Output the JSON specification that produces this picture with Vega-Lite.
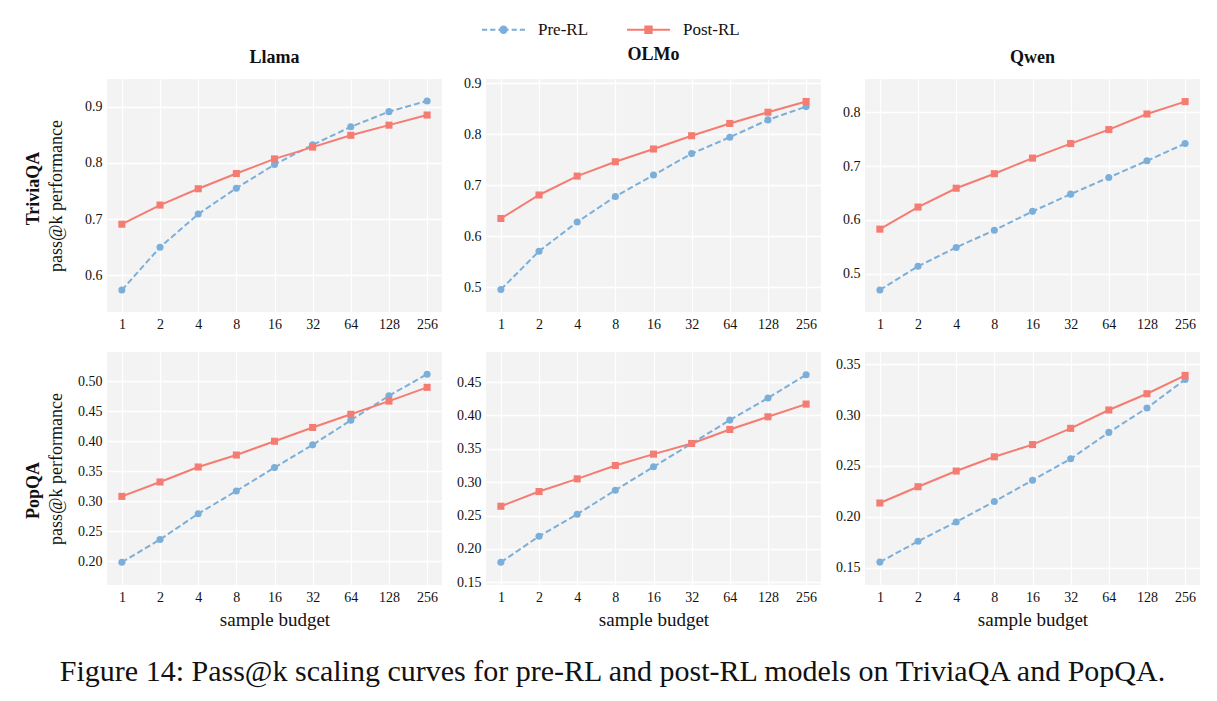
{
  "$schema": "https://vega.github.io/schema/vega-lite/v6.json",
  "padding": {"left": 25, "top": 7, "right": 10, "bottom": 10},
  "background": "white",
  "data": {"values": [
    {"model": "Llama", "task": "TriviaQA", "k": 1, "Pre-RL": 0.574, "Post-RL": 0.691},
    {"model": "Llama", "task": "TriviaQA", "k": 2, "Pre-RL": 0.650, "Post-RL": 0.725},
    {"model": "Llama", "task": "TriviaQA", "k": 4, "Pre-RL": 0.709, "Post-RL": 0.754},
    {"model": "Llama", "task": "TriviaQA", "k": 8, "Pre-RL": 0.755, "Post-RL": 0.781},
    {"model": "Llama", "task": "TriviaQA", "k": 16, "Pre-RL": 0.797, "Post-RL": 0.807},
    {"model": "Llama", "task": "TriviaQA", "k": 32, "Pre-RL": 0.832, "Post-RL": 0.828},
    {"model": "Llama", "task": "TriviaQA", "k": 64, "Pre-RL": 0.864, "Post-RL": 0.849},
    {"model": "Llama", "task": "TriviaQA", "k": 128, "Pre-RL": 0.891, "Post-RL": 0.867},
    {"model": "Llama", "task": "TriviaQA", "k": 256, "Pre-RL": 0.910, "Post-RL": 0.885},
    {"model": "OLMo", "task": "TriviaQA", "k": 1, "Pre-RL": 0.496, "Post-RL": 0.635},
    {"model": "OLMo", "task": "TriviaQA", "k": 2, "Pre-RL": 0.571, "Post-RL": 0.681},
    {"model": "OLMo", "task": "TriviaQA", "k": 4, "Pre-RL": 0.628, "Post-RL": 0.718},
    {"model": "OLMo", "task": "TriviaQA", "k": 8, "Pre-RL": 0.678, "Post-RL": 0.746},
    {"model": "OLMo", "task": "TriviaQA", "k": 16, "Pre-RL": 0.720, "Post-RL": 0.771},
    {"model": "OLMo", "task": "TriviaQA", "k": 32, "Pre-RL": 0.762, "Post-RL": 0.797},
    {"model": "OLMo", "task": "TriviaQA", "k": 64, "Pre-RL": 0.794, "Post-RL": 0.821},
    {"model": "OLMo", "task": "TriviaQA", "k": 128, "Pre-RL": 0.828, "Post-RL": 0.843},
    {"model": "OLMo", "task": "TriviaQA", "k": 256, "Pre-RL": 0.854, "Post-RL": 0.864},
    {"model": "Qwen", "task": "TriviaQA", "k": 1, "Pre-RL": 0.470, "Post-RL": 0.583},
    {"model": "Qwen", "task": "TriviaQA", "k": 2, "Pre-RL": 0.514, "Post-RL": 0.624},
    {"model": "Qwen", "task": "TriviaQA", "k": 4, "Pre-RL": 0.549, "Post-RL": 0.659},
    {"model": "Qwen", "task": "TriviaQA", "k": 8, "Pre-RL": 0.581, "Post-RL": 0.686},
    {"model": "Qwen", "task": "TriviaQA", "k": 16, "Pre-RL": 0.616, "Post-RL": 0.715},
    {"model": "Qwen", "task": "TriviaQA", "k": 32, "Pre-RL": 0.648, "Post-RL": 0.742},
    {"model": "Qwen", "task": "TriviaQA", "k": 64, "Pre-RL": 0.679, "Post-RL": 0.768},
    {"model": "Qwen", "task": "TriviaQA", "k": 128, "Pre-RL": 0.710, "Post-RL": 0.797},
    {"model": "Qwen", "task": "TriviaQA", "k": 256, "Pre-RL": 0.742, "Post-RL": 0.820},
    {"model": "Llama", "task": "PopQA", "k": 1, "Pre-RL": 0.198, "Post-RL": 0.308},
    {"model": "Llama", "task": "PopQA", "k": 2, "Pre-RL": 0.236, "Post-RL": 0.332},
    {"model": "Llama", "task": "PopQA", "k": 4, "Pre-RL": 0.279, "Post-RL": 0.357},
    {"model": "Llama", "task": "PopQA", "k": 8, "Pre-RL": 0.317, "Post-RL": 0.377},
    {"model": "Llama", "task": "PopQA", "k": 16, "Pre-RL": 0.356, "Post-RL": 0.400},
    {"model": "Llama", "task": "PopQA", "k": 32, "Pre-RL": 0.394, "Post-RL": 0.423},
    {"model": "Llama", "task": "PopQA", "k": 64, "Pre-RL": 0.435, "Post-RL": 0.445},
    {"model": "Llama", "task": "PopQA", "k": 128, "Pre-RL": 0.476, "Post-RL": 0.467},
    {"model": "Llama", "task": "PopQA", "k": 256, "Pre-RL": 0.512, "Post-RL": 0.490},
    {"model": "OLMo", "task": "PopQA", "k": 1, "Pre-RL": 0.180, "Post-RL": 0.264},
    {"model": "OLMo", "task": "PopQA", "k": 2, "Pre-RL": 0.219, "Post-RL": 0.286},
    {"model": "OLMo", "task": "PopQA", "k": 4, "Pre-RL": 0.252, "Post-RL": 0.305},
    {"model": "OLMo", "task": "PopQA", "k": 8, "Pre-RL": 0.288, "Post-RL": 0.325},
    {"model": "OLMo", "task": "PopQA", "k": 16, "Pre-RL": 0.323, "Post-RL": 0.342},
    {"model": "OLMo", "task": "PopQA", "k": 32, "Pre-RL": 0.358, "Post-RL": 0.358},
    {"model": "OLMo", "task": "PopQA", "k": 64, "Pre-RL": 0.393, "Post-RL": 0.379},
    {"model": "OLMo", "task": "PopQA", "k": 128, "Pre-RL": 0.426, "Post-RL": 0.398},
    {"model": "OLMo", "task": "PopQA", "k": 256, "Pre-RL": 0.461, "Post-RL": 0.417},
    {"model": "Qwen", "task": "PopQA", "k": 1, "Pre-RL": 0.1555, "Post-RL": 0.2136},
    {"model": "Qwen", "task": "PopQA", "k": 2, "Pre-RL": 0.176, "Post-RL": 0.2296},
    {"model": "Qwen", "task": "PopQA", "k": 4, "Pre-RL": 0.195, "Post-RL": 0.245},
    {"model": "Qwen", "task": "PopQA", "k": 8, "Pre-RL": 0.215, "Post-RL": 0.259},
    {"model": "Qwen", "task": "PopQA", "k": 16, "Pre-RL": 0.236, "Post-RL": 0.271},
    {"model": "Qwen", "task": "PopQA", "k": 32, "Pre-RL": 0.257, "Post-RL": 0.287},
    {"model": "Qwen", "task": "PopQA", "k": 64, "Pre-RL": 0.283, "Post-RL": 0.305},
    {"model": "Qwen", "task": "PopQA", "k": 128, "Pre-RL": 0.307, "Post-RL": 0.321},
    {"model": "Qwen", "task": "PopQA", "k": 256, "Pre-RL": 0.335, "Post-RL": 0.339}
  ]},
  "transform": [{"fold": ["Pre-RL", "Post-RL"], "as": ["series", "value"]}],
  "title": {"text": "Figure 14: Pass@k scaling curves for pre-RL and post-RL models on TriviaQA and PopQA.", "orient": "bottom", "anchor": "middle", "fontSize": 30, "fontWeight": "normal", "offset": 28, "font": "Liberation Serif", "color": "#111"},
  "spacing": 21,
  "vconcat": [
    {
      "title": {"text": "TriviaQA", "orient": "left", "anchor": "middle", "fontSize": 18, "fontWeight": "bold", "offset": 4},
      "spacing": 44,
      "bounds": "flush",
      "hconcat": [
        {
          "width": 335, "height": 233,
          "title": {"text": "Llama"},
          "transform": [{"filter": "datum.model === 'Llama' && datum.task === 'TriviaQA'"}],
          "encoding": {
            "x": {"field": "k", "type": "ordinal", "scale": {"padding": 0.39}, "axis": {"labelAngle": 0, "title": null, "grid": true}},
            "y": {"field": "value", "type": "quantitative", "scale": {"domain": [0.535, 0.949], "nice": false, "zero": false}, "axis": {"values": [0.6, 0.7, 0.8, 0.9], "format": ".1f", "title": "pass@k performance", "titlePadding": 15, "minExtent": 27, "maxExtent": 27}},
            "color": {"field": "series", "type": "nominal", "scale": {"domain": ["Pre-RL", "Post-RL"], "range": ["#7bafd9", "#f47c72"]},
              "legend": {"title": null, "orient": "none", "legendX": 374, "legendY": -72, "direction": "horizontal", "symbolSize": 1849, "symbolStrokeWidth": 1.9, "symbolOpacity": 1, "labelFontSize": 17, "labelFont": "Liberation Serif", "labelColor": "#111", "labelOffset": 12, "columnPadding": 34}}
          },
          "layer": [
            {"transform": [{"filter": "datum.series === 'Pre-RL'"}], "mark": {"type": "line", "strokeWidth": 2, "strokeDash": [6, 3]}},
            {"transform": [{"filter": "datum.series === 'Post-RL'"}], "mark": {"type": "line", "strokeWidth": 2}},
            {"transform": [{"filter": "datum.series === 'Pre-RL'"}], "mark": {"type": "point", "shape": "circle", "filled": true, "size": 50, "opacity": 1}},
            {"transform": [{"filter": "datum.series === 'Post-RL'"}], "mark": {"type": "point", "shape": "square", "filled": true, "size": 50, "opacity": 1}},
            {"mark": {"type": "point", "filled": true, "size": 0},
             "encoding": {"shape": {"field": "series", "type": "nominal",
               "scale": {"domain": ["Pre-RL", "Post-RL"], "range": ["M-1,0L-0.76,0M-0.62,0L-0.38,0M-0.24,0L0.24,0M0.38,0L0.62,0M0.76,0L1,0M0.15,0A0.15,0.15,0,1,1,-0.15,0A0.15,0.15,0,1,1,0.15,0Z", "M-1,0L1,0M-0.15,-0.15L0.15,-0.15L0.15,0.15L-0.15,0.15Z"]},
               "legend": {"title": null, "orient": "none", "legendX": 374, "legendY": -72, "direction": "horizontal", "symbolSize": 1849, "symbolStrokeWidth": 1.9, "symbolOpacity": 1, "labelFontSize": 17, "labelFont": "Liberation Serif", "labelColor": "#111", "labelOffset": 12, "columnPadding": 34}}}}
          ]
        },
        {
          "width": 335, "height": 233,
          "title": {"text": "OLMo"},
          "transform": [{"filter": "datum.model === 'OLMo' && datum.task === 'TriviaQA'"}],
          "encoding": {
            "x": {"field": "k", "type": "ordinal", "scale": {"padding": 0.39}, "axis": {"labelAngle": 0, "title": null, "grid": true}},
            "y": {"field": "value", "type": "quantitative", "scale": {"domain": [0.452, 0.908], "nice": false, "zero": false}, "axis": {"values": [0.5, 0.6, 0.7, 0.8, 0.9], "format": ".1f", "title": null}},
            "color": {"field": "series", "type": "nominal", "scale": {"domain": ["Pre-RL", "Post-RL"], "range": ["#7bafd9", "#f47c72"]}, "legend": null}
          },
          "layer": [
            {"transform": [{"filter": "datum.series === 'Pre-RL'"}], "mark": {"type": "line", "strokeWidth": 2, "strokeDash": [6, 3]}},
            {"transform": [{"filter": "datum.series === 'Post-RL'"}], "mark": {"type": "line", "strokeWidth": 2}},
            {"transform": [{"filter": "datum.series === 'Pre-RL'"}], "mark": {"type": "point", "shape": "circle", "filled": true, "size": 50, "opacity": 1}},
            {"transform": [{"filter": "datum.series === 'Post-RL'"}], "mark": {"type": "point", "shape": "square", "filled": true, "size": 50, "opacity": 1}}
          ]
        },
        {
          "width": 335, "height": 233,
          "title": {"text": "Qwen"},
          "transform": [{"filter": "datum.model === 'Qwen' && datum.task === 'TriviaQA'"}],
          "encoding": {
            "x": {"field": "k", "type": "ordinal", "scale": {"padding": 0.39}, "axis": {"labelAngle": 0, "title": null, "grid": true}},
            "y": {"field": "value", "type": "quantitative", "scale": {"domain": [0.429, 0.862], "nice": false, "zero": false}, "axis": {"values": [0.5, 0.6, 0.7, 0.8], "format": ".1f", "title": null}},
            "color": {"field": "series", "type": "nominal", "scale": {"domain": ["Pre-RL", "Post-RL"], "range": ["#7bafd9", "#f47c72"]}, "legend": null}
          },
          "layer": [
            {"transform": [{"filter": "datum.series === 'Pre-RL'"}], "mark": {"type": "line", "strokeWidth": 2, "strokeDash": [6, 3]}},
            {"transform": [{"filter": "datum.series === 'Post-RL'"}], "mark": {"type": "line", "strokeWidth": 2}},
            {"transform": [{"filter": "datum.series === 'Pre-RL'"}], "mark": {"type": "point", "shape": "circle", "filled": true, "size": 50, "opacity": 1}},
            {"transform": [{"filter": "datum.series === 'Post-RL'"}], "mark": {"type": "point", "shape": "square", "filled": true, "size": 50, "opacity": 1}}
          ]
        }
      ]
    },
    {
      "title": {"text": "PopQA", "orient": "left", "anchor": "middle", "fontSize": 18, "fontWeight": "bold", "offset": 4},
      "spacing": 44,
      "bounds": "flush",
      "hconcat": [
        {
          "width": 335, "height": 233,
          "transform": [{"filter": "datum.model === 'Llama' && datum.task === 'PopQA'"}],
          "encoding": {
            "x": {"field": "k", "type": "ordinal", "scale": {"padding": 0.39}, "axis": {"labelAngle": 0, "title": "sample budget", "grid": true}},
            "y": {"field": "value", "type": "quantitative", "scale": {"domain": [0.16, 0.549], "nice": false, "zero": false}, "axis": {"values": [0.2, 0.25, 0.3, 0.35, 0.4, 0.45, 0.5], "format": ".2f", "title": "pass@k performance", "titlePadding": 15, "minExtent": 27, "maxExtent": 27}},
            "color": {"field": "series", "type": "nominal", "scale": {"domain": ["Pre-RL", "Post-RL"], "range": ["#7bafd9", "#f47c72"]}, "legend": null}
          },
          "layer": [
            {"transform": [{"filter": "datum.series === 'Pre-RL'"}], "mark": {"type": "line", "strokeWidth": 2, "strokeDash": [6, 3]}},
            {"transform": [{"filter": "datum.series === 'Post-RL'"}], "mark": {"type": "line", "strokeWidth": 2}},
            {"transform": [{"filter": "datum.series === 'Pre-RL'"}], "mark": {"type": "point", "shape": "circle", "filled": true, "size": 50, "opacity": 1}},
            {"transform": [{"filter": "datum.series === 'Post-RL'"}], "mark": {"type": "point", "shape": "square", "filled": true, "size": 50, "opacity": 1}}
          ]
        },
        {
          "width": 335, "height": 233,
          "transform": [{"filter": "datum.model === 'OLMo' && datum.task === 'PopQA'"}],
          "encoding": {
            "x": {"field": "k", "type": "ordinal", "scale": {"padding": 0.39}, "axis": {"labelAngle": 0, "title": "sample budget", "grid": true}},
            "y": {"field": "value", "type": "quantitative", "scale": {"domain": [0.146, 0.495], "nice": false, "zero": false}, "axis": {"values": [0.15, 0.2, 0.25, 0.3, 0.35, 0.4, 0.45], "format": ".2f", "title": null}},
            "color": {"field": "series", "type": "nominal", "scale": {"domain": ["Pre-RL", "Post-RL"], "range": ["#7bafd9", "#f47c72"]}, "legend": null}
          },
          "layer": [
            {"transform": [{"filter": "datum.series === 'Pre-RL'"}], "mark": {"type": "line", "strokeWidth": 2, "strokeDash": [6, 3]}},
            {"transform": [{"filter": "datum.series === 'Post-RL'"}], "mark": {"type": "line", "strokeWidth": 2}},
            {"transform": [{"filter": "datum.series === 'Pre-RL'"}], "mark": {"type": "point", "shape": "circle", "filled": true, "size": 50, "opacity": 1}},
            {"transform": [{"filter": "datum.series === 'Post-RL'"}], "mark": {"type": "point", "shape": "square", "filled": true, "size": 50, "opacity": 1}}
          ]
        },
        {
          "width": 335, "height": 233,
          "transform": [{"filter": "datum.model === 'Qwen' && datum.task === 'PopQA'"}],
          "encoding": {
            "x": {"field": "k", "type": "ordinal", "scale": {"padding": 0.39}, "axis": {"labelAngle": 0, "title": "sample budget", "grid": true}},
            "y": {"field": "value", "type": "quantitative", "scale": {"domain": [0.133, 0.362], "nice": false, "zero": false}, "axis": {"values": [0.15, 0.2, 0.25, 0.3, 0.35], "format": ".2f", "title": null}},
            "color": {"field": "series", "type": "nominal", "scale": {"domain": ["Pre-RL", "Post-RL"], "range": ["#7bafd9", "#f47c72"]}, "legend": null}
          },
          "layer": [
            {"transform": [{"filter": "datum.series === 'Pre-RL'"}], "mark": {"type": "line", "strokeWidth": 2, "strokeDash": [6, 3]}},
            {"transform": [{"filter": "datum.series === 'Post-RL'"}], "mark": {"type": "line", "strokeWidth": 2}},
            {"transform": [{"filter": "datum.series === 'Pre-RL'"}], "mark": {"type": "point", "shape": "circle", "filled": true, "size": 50, "opacity": 1}},
            {"transform": [{"filter": "datum.series === 'Post-RL'"}], "mark": {"type": "point", "shape": "square", "filled": true, "size": 50, "opacity": 1}}
          ]
        }
      ]
    }
  ],
  "resolve": {"scale": {"y": "independent", "x": "independent"}},
  "config": {
    "font": "Liberation Serif",
    "view": {"fill": "#f3f3f3", "stroke": null},
    "axis": {"domain": false, "ticks": false, "gridColor": "white", "gridWidth": 1.3, "labelFont": "Liberation Serif", "labelFontSize": 14, "labelColor": "#111", "labelPadding": 5, "titleFont": "Liberation Serif", "titleFontSize": 18, "titleFontWeight": "normal", "titleColor": "#111"},
    "axisX": {"titlePadding": 6, "titleFontSize": 19},
    "title": {"font": "Liberation Serif", "fontSize": 18, "fontWeight": "bold", "color": "#111", "offset": 12}
  }
}
